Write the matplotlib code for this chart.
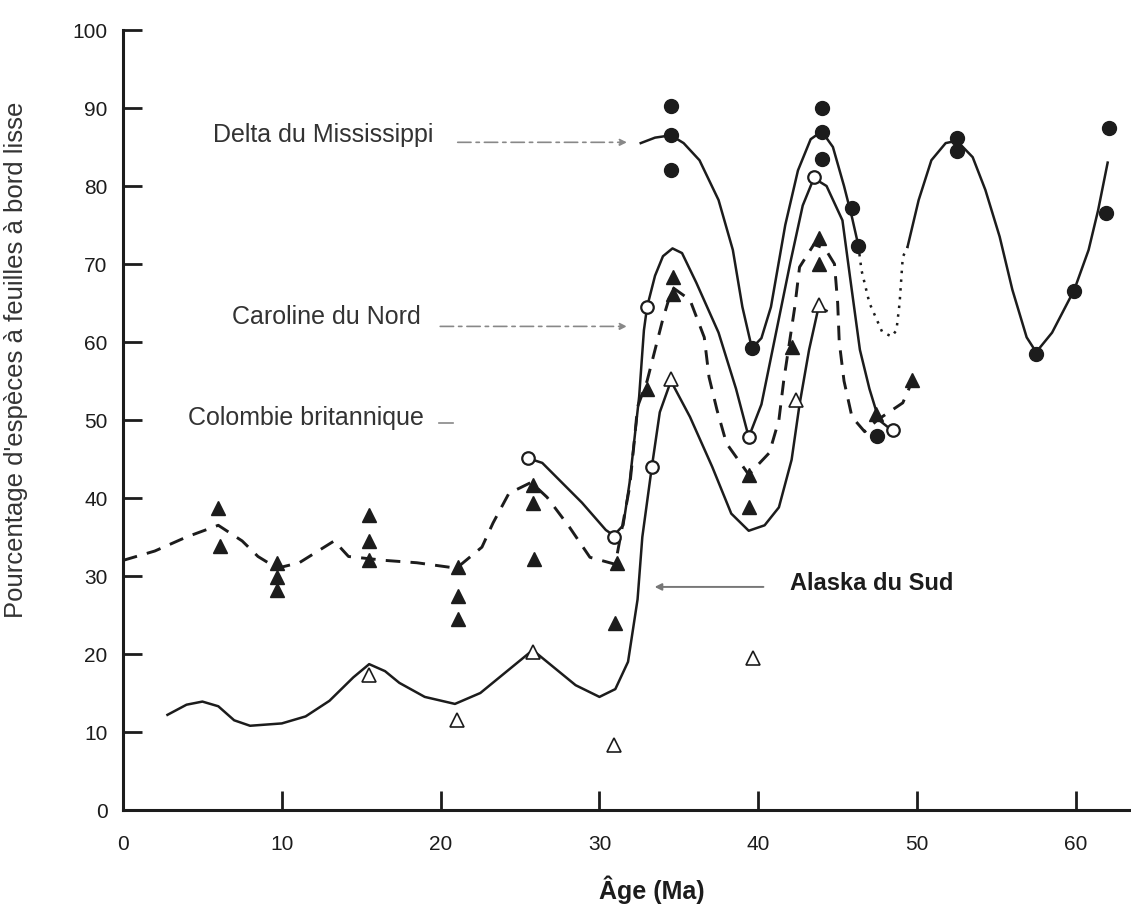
import matplotlib
matplotlib.use("Agg")
import matplotlib.pyplot as plt

plt.rcParams['font.family'] = ['Liberation Sans', 'DejaVu Sans']

INK = '#1c1c1c'

# --- data points ---
# Delta du Mississippi (filled circles)
miss_x = [34.5, 34.5, 34.5, 39.6, 44.0, 44.0, 44.0, 45.9, 46.3, 47.5, 52.5, 52.5, 57.5, 59.9, 61.9, 62.1]
miss_y = [90.3, 86.5, 82.0, 59.2, 90.0, 86.9, 83.5, 77.2, 72.3, 48.0, 86.1, 84.5, 58.5, 66.5, 76.5, 87.5]

# Caroline du Nord (open circles)
caro_x = [25.5, 30.9, 33.0, 33.3, 39.4, 43.5, 48.5]
caro_y = [45.1, 35.0, 64.5, 44.0, 47.8, 81.2, 48.7]

# Colombie britannique (filled triangles)
colo_x = [6.0, 6.1, 9.7, 9.7, 9.7, 15.5, 15.5, 15.5, 21.1, 21.1, 21.1, 25.8, 25.8, 25.9,
          31.1, 31.0, 33.0, 34.6, 34.6, 39.4, 39.4, 42.1, 43.8, 43.8, 47.4, 49.7]
colo_y = [38.7, 33.8, 31.7, 29.9, 28.2, 37.8, 34.5, 32.0, 31.2, 27.5, 24.5, 41.7, 39.3, 32.2,
          31.7, 24.0, 54.0, 68.3, 66.2, 42.9, 38.9, 59.4, 73.3, 70.0, 50.8, 55.1]

# Alaska du Sud (open triangles)
alas_x = [15.5, 21.0, 25.8, 30.9, 34.5, 39.7, 42.4, 43.8]
alas_y = [17.3, 11.5, 20.3, 8.3, 55.3, 19.5, 52.6, 64.7]

# --- hand-drawn curves ---
miss_c1_x = [32.6, 33.5, 34.5, 35.3, 36.3, 37.5, 38.4, 39.0, 39.6, 40.2, 40.8, 41.7, 42.5, 43.3, 44.0,
             44.7, 45.4, 45.9, 46.3]
miss_c1_y = [85.5, 86.2, 86.5, 85.5, 83.3, 78.2, 71.8, 64.5, 59.2, 60.5, 64.5, 75.0, 82.0, 86.0, 87.0,
             85.0, 80.0, 76.0, 72.4]
miss_dot_x = [46.3, 46.5, 47.0, 47.8, 48.4, 48.7, 48.9, 49.1, 49.4]
miss_dot_y = [72.4, 69.2, 65.0, 61.3, 60.7, 61.5, 65.0, 70.9, 72.2]
miss_c2_x = [49.4, 50.1, 50.9, 51.8, 52.5, 53.5, 54.3, 55.2, 56.0, 56.9, 57.5, 58.5, 59.9, 60.8, 61.4, 62.0]
miss_c2_y = [72.2, 78.2, 83.3, 85.5, 85.8, 83.7, 79.5, 73.5, 66.7, 60.6, 58.7, 61.2, 66.7, 71.8, 76.9, 83.0]

caro_c_x = [25.5, 26.4, 28.9, 30.4, 30.9, 31.5, 31.9, 32.5, 32.8, 33.0, 33.5, 34.0, 34.6, 35.2, 36.1,
            37.5, 38.6, 39.4, 40.2, 41.0, 42.0, 42.8, 43.5, 44.3, 45.3, 45.8, 46.4, 47.0, 47.6, 48.4]
caro_c_y = [45.1, 44.5, 39.4, 35.9, 35.2, 36.5, 42.0, 53.0, 61.5, 64.5, 68.5, 71.0, 72.0, 71.4, 67.6,
            61.2, 54.0, 47.8, 52.0, 60.0, 70.0, 77.5, 81.0, 80.0, 75.6, 68.0, 59.0, 54.0, 50.0, 48.7]

colo_c_x = [0.0, 2.0, 4.0, 6.0, 7.5, 8.5, 9.7, 11.1, 13.3, 14.2, 16.5, 18.5, 21.0, 22.6, 23.3, 24.3,
            25.7, 26.7, 28.1, 29.4, 31.0, 31.9, 32.2, 32.4, 33.0, 34.0, 34.6, 35.7, 36.6, 36.9, 37.4,
            38.0, 39.4, 40.7, 41.3, 41.6, 42.3, 42.6, 43.5, 44.2, 44.8, 45.0, 45.1, 45.4, 45.9, 46.7,
            47.5, 49.1, 49.7]
colo_c_y = [32.0, 33.2, 35.0, 36.5, 34.5, 32.5, 31.0, 31.7, 34.5, 32.5, 32.0, 31.7, 31.0, 33.7, 36.8,
            40.6, 42.0, 40.1, 36.3, 32.4, 31.5, 41.4, 47.4, 51.7, 55.0, 63.0, 67.0, 65.4, 60.6, 55.5,
            51.3, 47.0, 43.0, 45.8, 50.0, 55.0, 64.5, 69.6, 72.5, 72.0, 70.0, 65.0, 60.0, 55.0, 50.4,
            48.5, 50.0, 52.2, 55.0]

alas_c_x = [2.8, 4.0, 5.0, 6.0, 7.0, 8.0, 10.0, 11.5, 13.0, 14.5, 15.5, 16.5, 17.4, 19.0, 20.9, 22.5,
            24.0, 25.8, 27.0, 28.5, 30.0, 31.0, 31.8, 32.4, 32.7, 33.3, 33.8, 34.5, 35.7, 37.1, 38.3,
            39.4, 40.4, 41.3, 42.1, 42.6, 43.2, 43.8, 44.3]
alas_c_y = [12.2, 13.5, 13.9, 13.3, 11.5, 10.8, 11.1, 12.0, 14.0, 17.0, 18.7, 17.8, 16.3, 14.5, 13.6, 15.0,
            17.5, 20.5, 18.5, 16.0, 14.5, 15.5, 19.0, 27.0, 35.0, 44.0, 51.0, 55.0, 50.4, 44.0, 38.0,
            35.8, 36.5, 38.8, 44.9, 52.0, 59.0, 64.5, 64.0]

x_ticks = [0, 10, 20, 30, 40, 50, 60]
y_ticks = [0, 10, 20, 30, 40, 50, 60, 70, 80, 90, 100]

fig = plt.figure(figsize=(11.31, 9.08), dpi=100)
ax = fig.add_axes([123 / 1131, 1 - 810 / 908, 1008 / 1131, 780 / 908])

lw = 1.8
ax.plot(miss_c1_x, miss_c1_y, color=INK, lw=lw, solid_joinstyle='round')
ax.plot(miss_dot_x, miss_dot_y, color=INK, lw=lw, linestyle=(0, (1, 2.5)))
ax.plot(miss_c2_x, miss_c2_y, color=INK, lw=lw, solid_joinstyle='round')
ax.plot(caro_c_x, caro_c_y, color=INK, lw=lw, solid_joinstyle='round')
ax.plot(colo_c_x, colo_c_y, color=INK, lw=lw + 0.3, linestyle=(0, (5, 3.5)))
ax.plot(alas_c_x, alas_c_y, color=INK, lw=lw, solid_joinstyle='round')

ax.plot(miss_x, miss_y, 'o', ms=10, color=INK, ls='none', zorder=5)
ax.plot(caro_x, caro_y, 'o', ms=9, mfc='white', mec=INK, mew=1.6, ls='none', zorder=5)
ax.plot(colo_x, colo_y, '^', ms=10, color=INK, ls='none', zorder=5)
ax.plot(alas_x, alas_y, '^', ms=10, mfc='white', mec=INK, mew=1.2, ls='none', zorder=5)

# labels with arrows
ax.text(5.67, 86.5, 'Delta du Mississippi', fontsize=18, color='#333', va='center')
ax.annotate('', xy=(31.9, 85.6), xytext=(20.9, 85.6),
            arrowprops=dict(arrowstyle='-|>', color='#888', lw=1.2, mutation_scale=10,
                            linestyle=(0, (8, 3, 2, 3))))
ax.text(6.86, 63.2, 'Caroline du Nord', fontsize=18, color='#333', va='center')
ax.annotate('', xy=(31.9, 62.0), xytext=(19.8, 62.0),
            arrowprops=dict(arrowstyle='-|>', color='#888', lw=1.2, mutation_scale=10,
                            linestyle=(0, (8, 3, 2, 3))))
ax.text(4.1, 50.2, 'Colombie britannique', fontsize=18, color='#333', va='center')
ax.plot([19.9, 20.8], [49.6, 49.6], color='#888', lw=1.2)
ax.text(42.0, 29.1, 'Alaska du Sud', fontsize=17, fontweight='bold', color=INK, va='center')
ax.annotate('', xy=(33.3, 28.6), xytext=(40.5, 28.6),
            arrowprops=dict(arrowstyle='-|>', color='#777', lw=1.4, mutation_scale=10))

ax.set_xlim(0, 63.47)
ax.set_ylim(0, 100)
ax.set_xticks(x_ticks)
ax.set_yticks(y_ticks)
ax.tick_params(direction='in', length=14, width=2, colors=INK, labelsize=15)
ax.tick_params(axis='x', pad=18)
ax.tick_params(axis='y', pad=11)
for s in ['top', 'right']:
    ax.spines[s].set_visible(False)
for s in ['left', 'bottom']:
    ax.spines[s].set_linewidth(2.2)
    ax.spines[s].set_color(INK)

ax.set_ylabel("Pourcentage d'espèces à feuilles à bord lisse", fontsize=18.5, color='#333')
ax.yaxis.set_label_coords(-0.094, 0.577)
fig.text(652 / 1131, 1 - 904 / 908, 'Âge (Ma)', ha='center', va='bottom', fontsize=18,
         fontweight='bold', color=INK)

fig.savefig('out.png', dpi=100, facecolor='white')
